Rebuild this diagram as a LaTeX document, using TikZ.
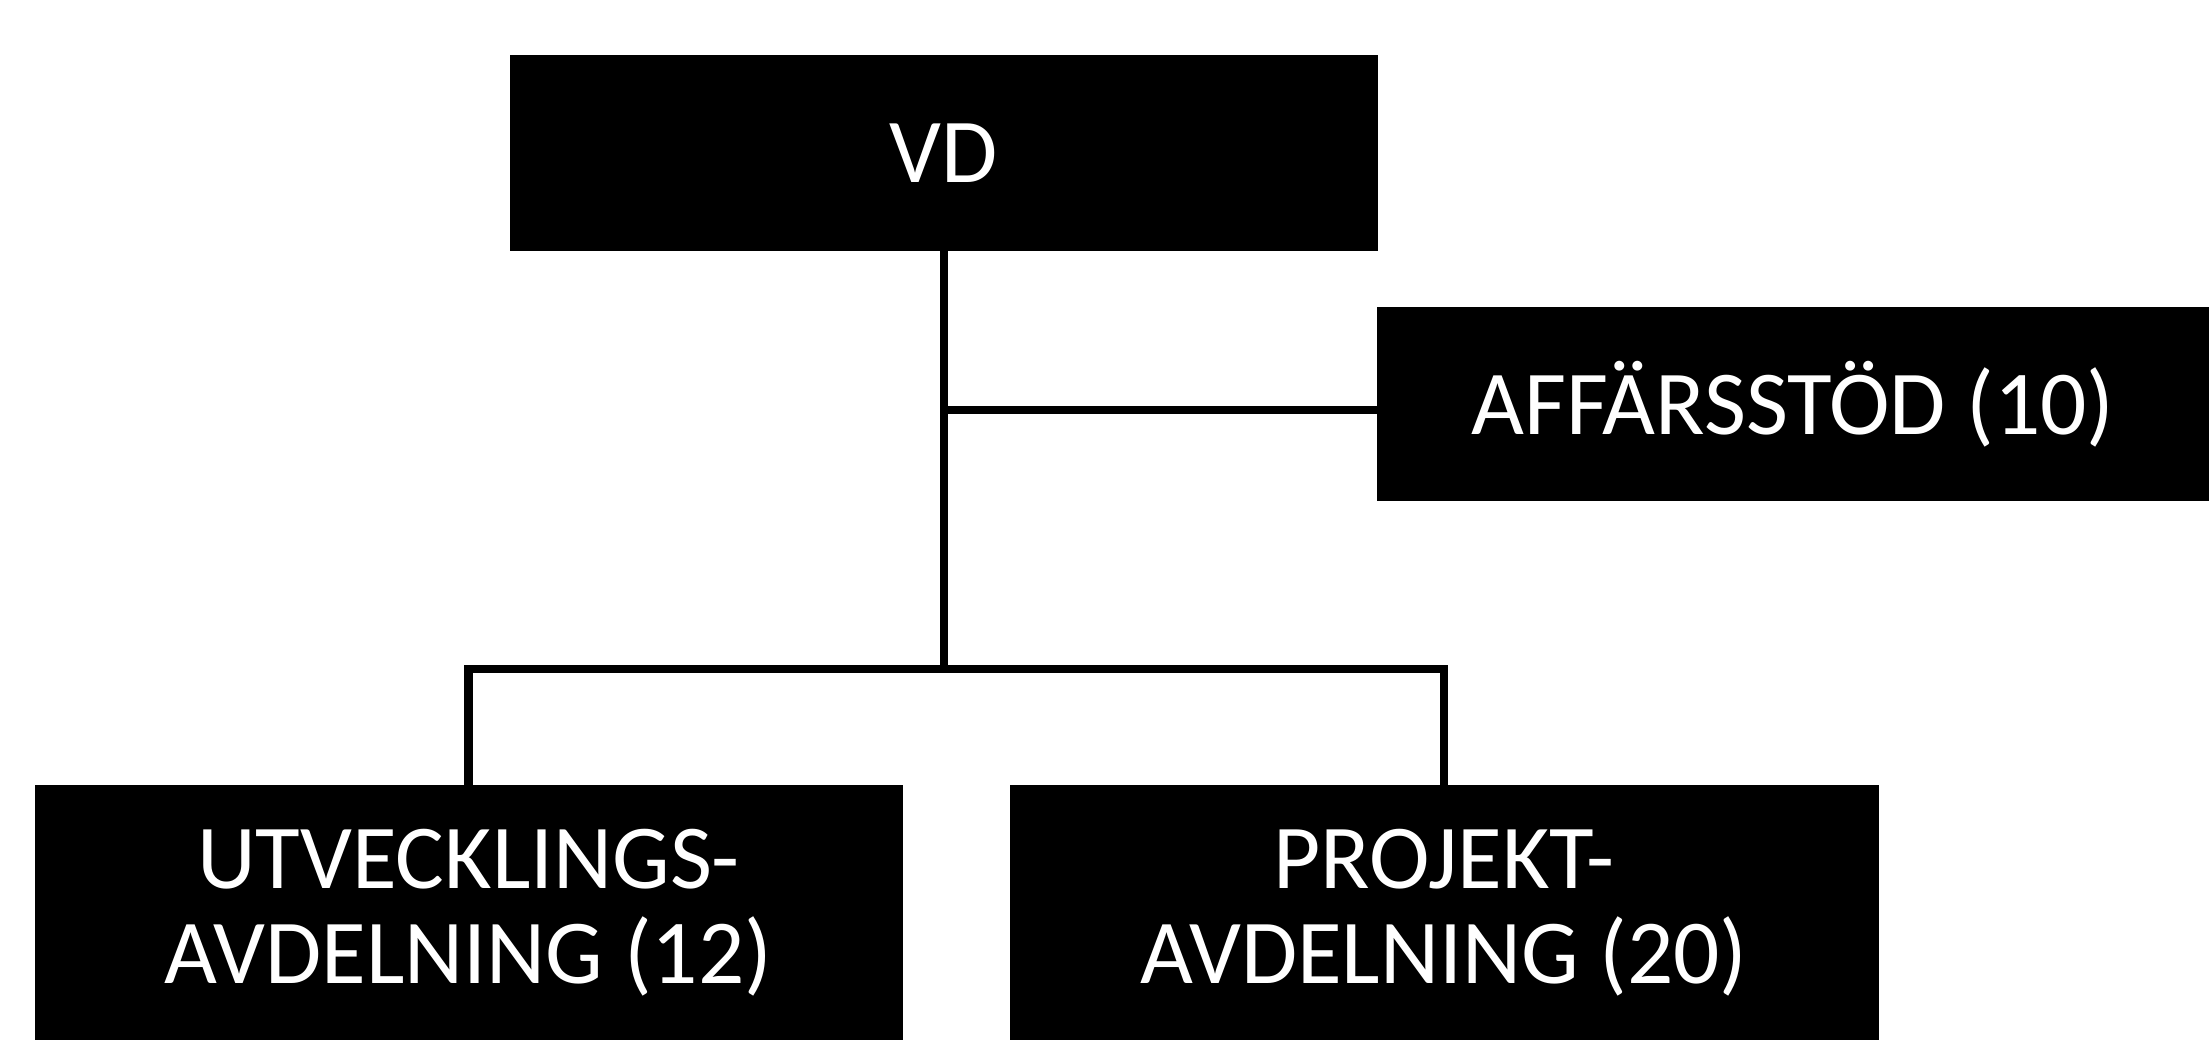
\documentclass[tikz,border=0pt]{standalone}
\usepackage{fontspec}
\setmainfont{Carlito}
\begin{document}
\begin{tikzpicture}[line width=2.5pt]
\useasboundingbox (0,0) rectangle (22.09,10.40);

\tikzset{unit/.style={draw, line width=0pt, fill=black, text=white, rectangle, text centered, align=center, font=\fontsize{26}{27}\selectfont}}

\node (vd) [unit, minimum width=8.67cm, minimum height=1.95cm] at (9.44,8.87) {VD};

\node (aff) [unit, right of=vd, node distance=8.49cm, yshift=-2.51cm, minimum width=8.31cm, minimum height=1.93cm] {AFFÄRSSTÖD (10)};

\node (utv) [unit, below of=vd, node distance=7.6cm, xshift=-4.755cm, minimum width=8.67cm, minimum height=2.54cm] {UTVECKLINGS-\\AVDELNING (12)};
\node (proj) [unit, right of=utv, node distance=9.755cm, minimum width=8.68cm, minimum height=2.54cm] {PROJEKT-\\AVDELNING (20)};

\coordinate (bus) at (9.44,3.71);

\draw (vd.south) -- (bus);
\draw ([yshift=-0.06cm]aff.west) -- ([yshift=-0.06cm]aff.west -| vd.south);
\draw (utv.north) |- (bus) -| (proj.north);

\end{tikzpicture}
\end{document}
